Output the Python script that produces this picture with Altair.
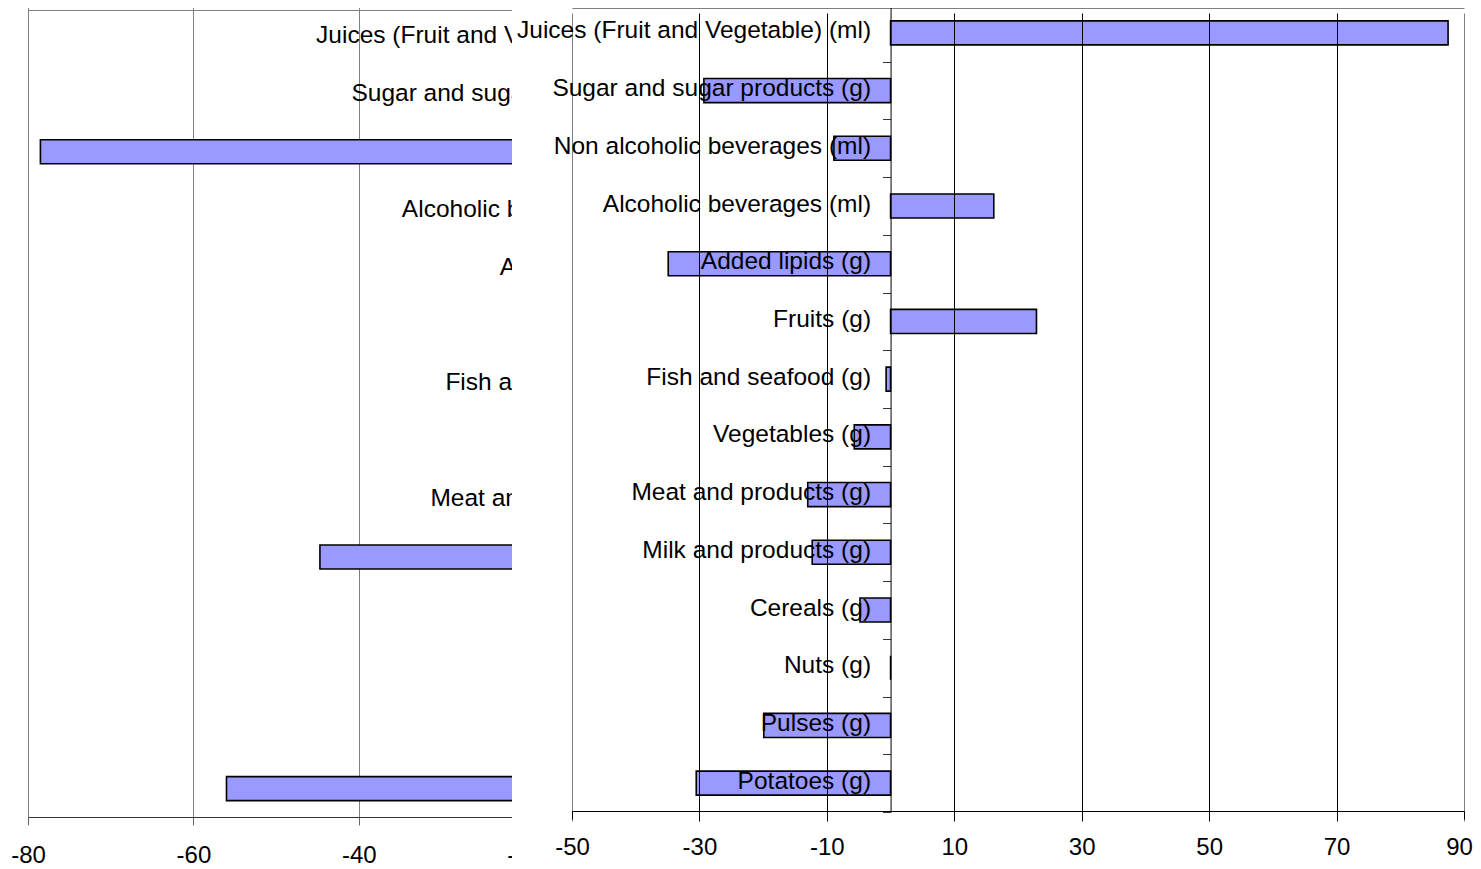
import altair as alt
import pandas as pd

# ---------------- data ----------------
categories = [
    "Juices (Fruit and Vegetable) (ml)",
    "Sugar and sugar products (g)",
    "Non alcoholic beverages (ml)",
    "Alcoholic beverages (ml)",
    "Added lipids (g)",
    "Fruits (g)",
    "Fish and seafood (g)",
    "Vegetables (g)",
    "Meat and products (g)",
    "Milk and products (g)",
    "Cereals (g)",
    "Nuts (g)",
    "Pulses (g)",
    "Potatoes (g)",
]
# front (right) chart
right_values = [87.5, -29.3, -8.9, 16.2, -34.9, 22.9, -0.7, -5.7, -13.0, -12.3, -4.8, 0.0, -19.9, -30.5]
# back (left) chart, mostly hidden behind the front chart
left_values = [-5.0, -12.0, -78.5, -8.0, -15.0, -6.0, -3.0, -9.0, -14.0, -44.7, -11.0, -1.0, -4.0, -56.0]
left_ticks = [-80, -60, -40, -20]
right_ticks = [-50, -30, -10, 10, 30, 50, 70, 90]

FONT = "Liberation Sans"
BAR_FILL = "#9999FF"
PLAIN_MINUS = "'' + datum.value"

left_df = pd.DataFrame({"category": categories, "value": left_values})
right_df = pd.DataFrame({"category": categories, "value": right_values})

xL = alt.Scale(domain=[-80, 0], range=[20, 681.6], nice=False, zero=False)
yL = alt.Scale(domain=categories, range=[-1, 809.6], paddingInner=0, paddingOuter=0)
xR = alt.Scale(domain=[-50, 90], range=[564, 1456], nice=False, zero=False)
yR = alt.Scale(domain=categories, range=[-4, 804], paddingInner=0, paddingOuter=0)

# ---------------- back chart ----------------
left_bars = alt.Chart(left_df).mark_bar(
    fill=BAR_FILL, stroke="black", strokeWidth=1.6, height={"band": 0.415}
).encode(
    x=alt.X("value:Q", scale=xL, axis=alt.Axis(
        orient="bottom", values=left_ticks, grid=True, gridColor="#808080",
        domainColor="#333333", tickColor="#666666", tickSize=8,
        labelFontSize=24, labelPadding=18, labelFlush=False, labelOverlap=False,
        labelExpr=PLAIN_MINUS, title=None, zindex=0)),
    x2=alt.X2(datum=0),
    y=alt.Y("category:N", scale=yL, axis=alt.Axis(
        orient="left", offset=-681.6, domain=False, tickSize=8, tickColor="#333333",
        labelPadding=12, labelFontSize=24.5, labelLimit=0, labelOffset=0,
        labelOverlap=False, grid=False, title=None, zindex=0)),
)

left_frame = alt.Chart(left_df).mark_point(opacity=0).encode(
    x=alt.X("value:Q", scale=xL, axis=alt.Axis(
        orient="top", offset=-2, domainColor="#808080", ticks=False,
        labels=False, grid=False, title=None, zindex=0)),
)

# white panel of the front chart, covering the back chart
mask = alt.Chart(pd.DataFrame({"m": [0]})).mark_rect(color="white").encode(
    x=alt.value(504), x2=alt.value(689), y=alt.value(-10), y2=alt.value(870)
)

# ---------------- front chart ----------------
right_bars = alt.Chart(right_df).mark_bar(
    fill=BAR_FILL, stroke="black", strokeWidth=1.6, height={"band": 0.416}
).encode(
    x=alt.X("value:Q", scale=xR, axis=alt.Axis(
        orient="bottom", offset=-6, values=right_ticks, grid=True,
        gridColor={"condition": {"test": "datum.value === -50 || datum.value === 90",
                                 "value": "#808080"}, "value": "#000000"},
        domainColor="#000000", tickColor="#000000", tickSize=8,
        labelFontSize=24, labelPadding=16.5, labelFlush=False, labelOverlap=False,
        labelOffset={"condition": {"test": "datum.value === 90", "value": -5}, "value": 0},
        labelExpr=PLAIN_MINUS, title=None, zindex=1)),
    x2=alt.X2(datum=0),
    y=alt.Y("category:N", scale=yR, axis=alt.Axis(
        orient="left", offset=-882.57, tickBand="extent", domainColor="#000000",
        tickColor="#333333", tickSize=8, labelPadding=12, labelFontSize=24.5,
        labelLimit=0, labelOffset=-2, labelOverlap=False, grid=False,
        title=None, zindex=1)),
)

right_frame = alt.Chart(right_df).mark_point(opacity=0).encode(
    x=alt.X("value:Q", scale=xR, axis=alt.Axis(
        orient="top", offset=0, domainColor="#808080", ticks=False,
        labels=False, grid=False, title=None, zindex=1)),
)

chart = (
    alt.layer(left_bars, left_frame, mask, right_bars, right_frame)
    .resolve_scale(x="independent", y="independent")
    .resolve_axis(x="independent", y="independent")
    .properties(
        width=1456, height=809,
        padding={"left": 0, "top": 0, "right": 9, "bottom": 52},
        autosize=alt.AutoSizeParams(type="none"),
        background="white",
    )
    .configure_view(stroke=None)
    .configure_axis(labelFont=FONT, labelColor="#000000", domainWidth=1, tickWidth=1, gridWidth=1)
)

chart.save("out.html", embed_options={"renderer": "svg", "actions": False})
